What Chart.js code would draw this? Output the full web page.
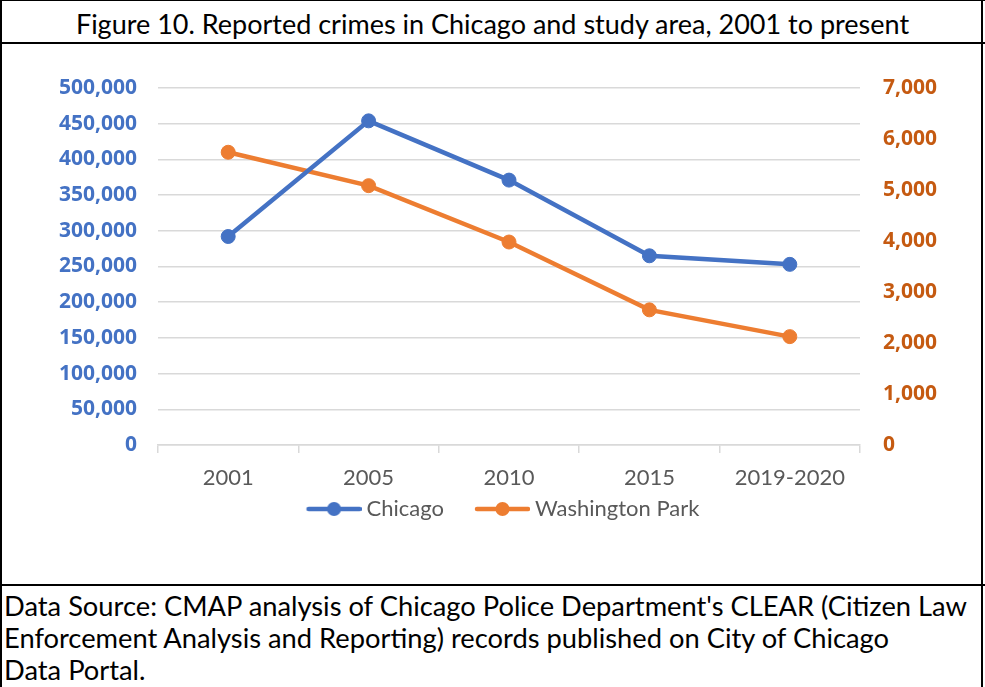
<!DOCTYPE html>
<html>
<head>
<meta charset="utf-8">
<title>Reported crimes in Chicago and study area</title>
<script src="https://cdn.jsdelivr.net/npm/chart.js@4.4.1/dist/chart.umd.min.js"></script>
<style>
  body { margin: 0; background: #fff; }
  #frame {
    position: absolute; left: 0; top: 0; width: 985px; height: 687px;
    overflow: hidden; font-family: Lato, "Noto Sans", sans-serif; color: #000;
  }
  .rule { position: absolute; background: #000; }
  #title {
    position: absolute; left: 0; top: 0; width: 985px; height: 43px;
    line-height: 48px; text-align: center; font-size: 27px; white-space: nowrap;
  }
  #chartBox { position: absolute; left: 0; top: 44px; width: 985px; height: 540px; }
  #source {
    position: absolute; left: 4px; top: 590px; font-size: 27.3px;
    line-height: 32px; white-space: nowrap;
  }
</style>
</head>
<body>
<div id="frame">
  <div id="title">Figure 10. Reported crimes in Chicago and study area, 2001 to present</div>
  <div id="chartBox"><canvas id="crimeChart" width="985" height="540"></canvas></div>
  <div id="source">Data Source: CMAP analysis of Chicago Police Department's CLEAR (Citizen Law<br>Enforcement Analysis and Reporting) records published on City of Chicago<br>Data Portal.</div>
  <div class="rule" style="left:0;top:0;width:985px;height:1px"></div>
  <div class="rule" style="left:0;top:42px;width:985px;height:2px"></div>
  <div class="rule" style="left:0;top:584px;width:985px;height:2px"></div>
  <div class="rule" style="left:0;top:0;width:2px;height:687px"></div>
  <div class="rule" style="left:981px;top:0;width:2px;height:687px"></div>
</div>
<script>
// 年次と犯罪件数
const years = ['2001', '2005', '2010', '2015', '2019-2020'];
const chicagoCrimes = [292000, 454000, 371000, 265000, 253000];
const washingtonParkCrimes = [5740, 5085, 3980, 2650, 2125];

// 軸の範囲
const chicagoAxisMax = 500000;
const chicagoAxisStep = 50000;
const parkAxisMax = 7000;
const parkAxisStep = 1000;

const blue = '#4472C4';
const orange = '#ED7D31';
const chartFont = 'Lato, "Noto Sans", sans-serif';
const tickFont = '"Noto Sans", Lato, sans-serif';

/**
 * 凡例用のマーカー（線＋丸）をキャンバスに描く
 * 左側は余白にして、凡例項目どうしの間隔を調整する
 */
function makeLegendMarker(color) {
    const c = document.createElement('canvas');
    c.width = 82;
    c.height = 16;
    const g = c.getContext('2d');
    g.strokeStyle = color;
    g.lineWidth = 4.5;
    g.lineCap = 'round';
    g.beginPath();
    g.moveTo(29, 8);
    g.lineTo(80, 8);
    g.stroke();
    g.fillStyle = color;
    g.beginPath();
    g.arc(54.5, 8, 7, 0, Math.PI * 2);
    g.fill();
    return c;
}

const markers = [makeLegendMarker(blue), makeLegendMarker(orange)];

function formatNumber(v) {
    return Number(v).toLocaleString('en-US');
}

var ctx = document.getElementById('crimeChart');
var crimeChart = new Chart(ctx, {
    type: 'line',
    data: {
        labels: years,
        datasets: [{
            label: 'Chicago',
            data: chicagoCrimes,
            yAxisID: 'yChicago',
            borderColor: blue,
            backgroundColor: blue,
            pointBackgroundColor: blue,
            pointBorderColor: blue,
            borderWidth: 4.5,
            pointRadius: 7,
            pointBorderWidth: 1,
            tension: 0
        }, {
            label: 'Washington Park',
            data: washingtonParkCrimes,
            yAxisID: 'yPark',
            borderColor: orange,
            backgroundColor: orange,
            pointBackgroundColor: orange,
            pointBorderColor: orange,
            borderWidth: 4.5,
            pointRadius: 7,
            pointBorderWidth: 1,
            tension: 0
        }]
    },
    options: {
        responsive: false,
        animation: false,
        layout: { padding: { top: 44, bottom: 54, left: 0, right: 0 } },
        plugins: {
            tooltip: { enabled: false },
            legend: {
                position: 'bottom',
                labels: {
                    usePointStyle: true,
                    pointStyleWidth: 70,
                    padding: 10,
                    color: '#595959',
                    font: { family: chartFont, size: 22 },
                    generateLabels: function (chart) {
                        return chart.data.datasets.map((ds, i) => ({
                            text: ds.label,
                            pointStyle: markers[i],
                            fillStyle: ds.borderColor,
                            strokeStyle: ds.borderColor,
                            lineWidth: 0,
                            fontColor: '#595959',
                            datasetIndex: i,
                            hidden: false
                        }));
                    }
                }
            }
        },
        scales: {
            x: {
                offset: true,
                grid: {
                    display: true,
                    offset: true,
                    drawOnChartArea: false,
                    drawTicks: true,
                    tickLength: 8,
                    color: '#d9d9d9',
                    lineWidth: 1.5
                },
                border: { display: true, color: '#d9d9d9', width: 1.5 },
                ticks: {
                    padding: 12,
                    color: '#595959',
                    font: { family: chartFont, size: 22 }
                },
                afterFit: function (scale) { scale.height = 43; }
            },
            yChicago: {
                position: 'left',
                min: 0,
                max: chicagoAxisMax,
                border: { display: false },
                grid: { color: '#d9d9d9', lineWidth: 1.5, drawTicks: false },
                ticks: {
                    stepSize: chicagoAxisStep,
                    padding: 21,
                    color: blue,
                    font: { family: tickFont, size: 21, weight: 'bold' },
                    callback: formatNumber
                },
                afterFit: function (scale) { scale.width = 158; }
            },
            yPark: {
                position: 'right',
                min: 0,
                max: parkAxisMax,
                border: { display: false },
                grid: { display: false, drawTicks: false },
                ticks: {
                    stepSize: parkAxisStep,
                    padding: 23,
                    color: '#C55A11',
                    font: { family: tickFont, size: 21, weight: 'bold' },
                    callback: formatNumber
                },
                afterFit: function (scale) { scale.width = 125; }
            }
        }
    }
});
</script>
</body>
</html>
